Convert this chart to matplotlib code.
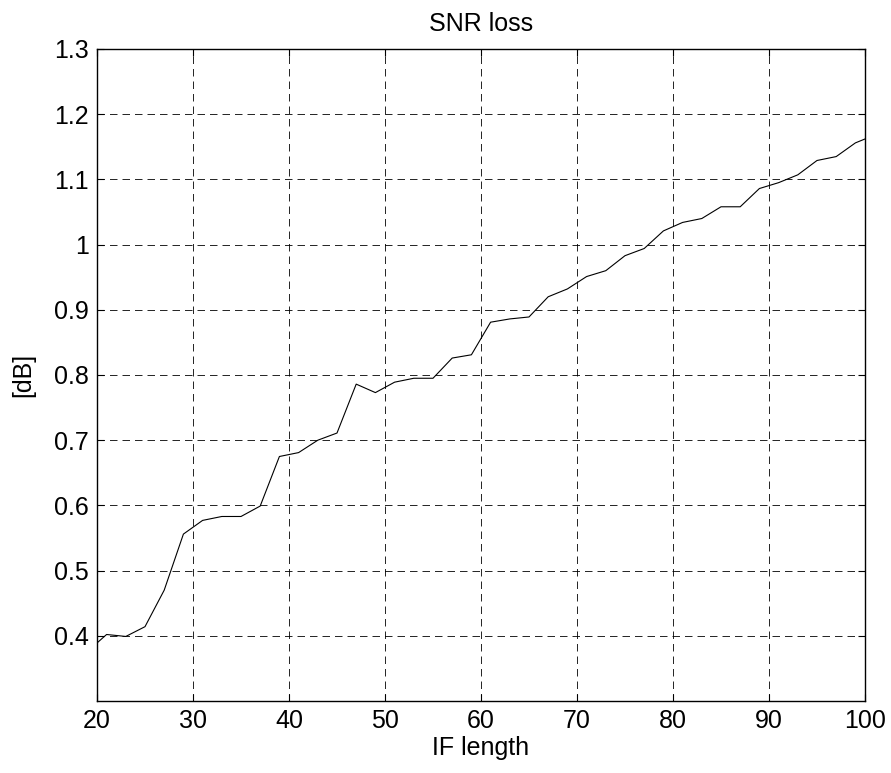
import numpy as np
import matplotlib.pyplot as plt
from matplotlib.ticker import FuncFormatter

# IF length (x) and SNR loss in dB (y)
if_length = [20, 21, 23, 25, 27, 29, 31, 33, 35, 37, 39, 41, 43, 45, 47, 49,
             51, 53, 55, 57, 59, 61, 63, 65, 67, 69, 71, 73, 75, 77, 79, 81,
             83, 85, 87, 89, 91, 93, 95, 97, 99, 100]
snr_loss = [0.389, 0.402, 0.399, 0.414, 0.470, 0.556, 0.577, 0.583, 0.583,
            0.599, 0.675, 0.681, 0.700, 0.711, 0.786, 0.773, 0.789, 0.795,
            0.795, 0.826, 0.831, 0.881, 0.886, 0.889, 0.920, 0.932, 0.951,
            0.960, 0.983, 0.994, 1.021, 1.034, 1.040, 1.058, 1.058, 1.086,
            1.095, 1.107, 1.129, 1.135, 1.156, 1.162]
x_ticks = [20, 30, 40, 50, 60, 70, 80, 90, 100]
y_ticks = [0.4, 0.5, 0.6, 0.7, 0.8, 0.9, 1.0, 1.1, 1.2, 1.3]

plt.rcParams['font.family'] = ['Liberation Sans', 'DejaVu Sans']
plt.rcParams['font.size'] = 18
plt.rcParams['lines.scale_dashes'] = False

fig = plt.figure(figsize=(8.91, 7.73), dpi=100)
ax = fig.add_axes([97 / 891, 72 / 773, 768 / 891, 652 / 773])

ax.plot(if_length, snr_loss, color='black', linewidth=0.8)

ax.set_xlim(20, 100)
ax.set_ylim(0.3, 1.3)
ax.set_xticks(x_ticks)
ax.set_yticks(y_ticks)
ax.yaxis.set_major_formatter(FuncFormatter(lambda v, p: '%g' % round(v, 2)))
ax.tick_params(direction='in', top=True, right=True, length=5, width=0.8,
               labelsize=18, pad=6)

ax.grid(True, color='black', linestyle=(0, (5.4, 3.6)), linewidth=0.6)
for s in ax.spines.values():
    s.set_linewidth(1.0)

ax.set_title('SNR loss', fontsize=18, pad=13)
ax.set_xlabel('IF length', fontsize=18, labelpad=2)
ax.set_ylabel('[dB]', fontsize=18, labelpad=13)

fig.savefig('out.png', dpi=100)
